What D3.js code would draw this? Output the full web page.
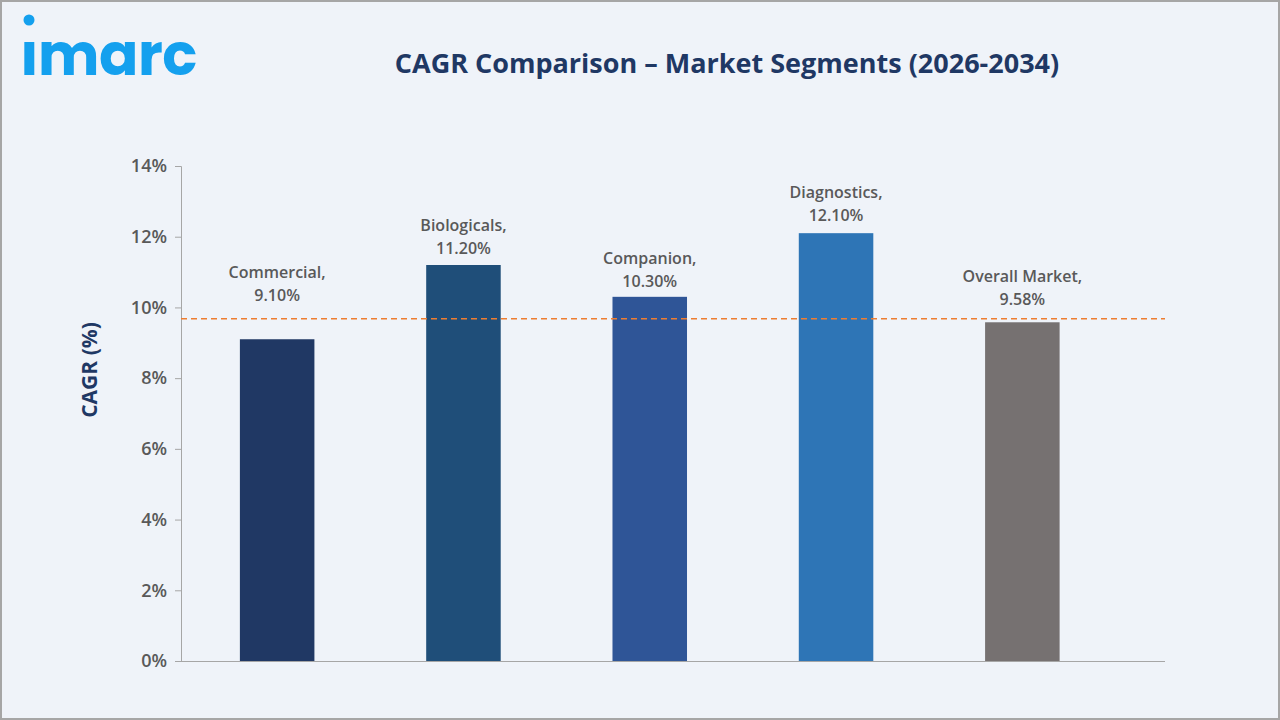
<!DOCTYPE html><html><head><meta charset="utf-8">
<script src="https://cdn.jsdelivr.net/npm/d3@7"></script>
<style>body{margin:0;background:#fff}svg{display:block}</style></head><body>
<svg id="c" width="1280" height="720"></svg>
<script>
const categories=["Commercial","Biologicals","Companion","Diagnostics","Overall Market"];
const values=[9.10,11.20,10.30,12.10,9.58];
const colors=["#203864","#1f4e79","#2f5597","#2e75b6","#767171"];
const ticks=[0,2,4,6,8,10,12,14];
const refLine=9.68;
const labelGap=[38,11,10,12,17];
const svg=d3.select("#c");
svg.append("rect").attr("x",1).attr("y",1).attr("width",1278).attr("height",718).attr("fill","#eff3f9").attr("stroke","#a6a6a6").attr("stroke-width",2);
svg.append("text").attr("x",20).attr("y",75).attr("fill","#14a0ee").attr("font-family","Poppins, Lato, sans-serif").attr("font-weight",700).attr("font-size",58).attr("letter-spacing",-0.5).text("ımarc");
svg.append("circle").attr("cx",29).attr("cy",20).attr("r",5.5).attr("fill","#14a0ee");
svg.append("text").attr("x",727).attr("y",73).attr("text-anchor","middle").attr("fill","#1f3864").attr("font-family","Open Sans, sans-serif").attr("font-weight",700).attr("font-size",27).text("CAGR Comparison – Market Segments (2026-2034)");
const y=d3.scaleLinear().domain([0,14]).range([661,166]);
const x=d3.scaleBand().domain(categories).range([184,1115.5]).paddingInner(0.6).paddingOuter(0.3);
const ax=svg.append("g").attr("transform","translate(181,0)").call(d3.axisLeft(y).tickValues(ticks).tickFormat(d=>d+"%").tickSize(6));
ax.select(".domain").attr("stroke","#a6a6a6").attr("d","M-6,166.5H0.5V661.5");
ax.selectAll(".tick line").attr("stroke","#a6a6a6");
ax.selectAll("text").attr("font-family","Open Sans, sans-serif").attr("font-size",18).attr("font-weight",600).attr("fill","#595959").attr("x",-14);
svg.append("line").attr("x1",181).attr("x2",1165).attr("y1",661.5).attr("y2",661.5).attr("stroke","#a6a6a6");
svg.append("text").attr("transform","translate(97,370) rotate(-90)").attr("text-anchor","middle").attr("fill","#1f3864").attr("font-family","Open Sans, sans-serif").attr("font-weight",700).attr("font-size",21).text("CAGR (%)");
svg.selectAll(".bar").data(values).join("rect").attr("x",(d,i)=>x(categories[i])).attr("width",x.bandwidth()).attr("y",d=>y(d)).attr("height",d=>661-y(d)).attr("fill",(d,i)=>colors[i]);
svg.append("line").attr("x1",181).attr("x2",1165).attr("y1",y(refLine)).attr("y2",y(refLine)).attr("stroke","#ed7d31").attr("stroke-width",1.5).attr("stroke-dasharray","6,4");
const lab=svg.selectAll(".lab").data(values).join("text").attr("text-anchor","middle").attr("font-family","Open Sans, sans-serif").attr("font-size",16).attr("font-weight",600).attr("fill","#595959");
lab.append("tspan").attr("x",(d,i)=>x(categories[i])+x.bandwidth()/2).attr("y",(d,i)=>y(d)-labelGap[i]-23).text((d,i)=>categories[i]+",");
lab.append("tspan").attr("x",(d,i)=>x(categories[i])+x.bandwidth()/2).attr("y",(d,i)=>y(d)-labelGap[i]).text(d=>d.toFixed(2)+"%");
</script></body></html>
